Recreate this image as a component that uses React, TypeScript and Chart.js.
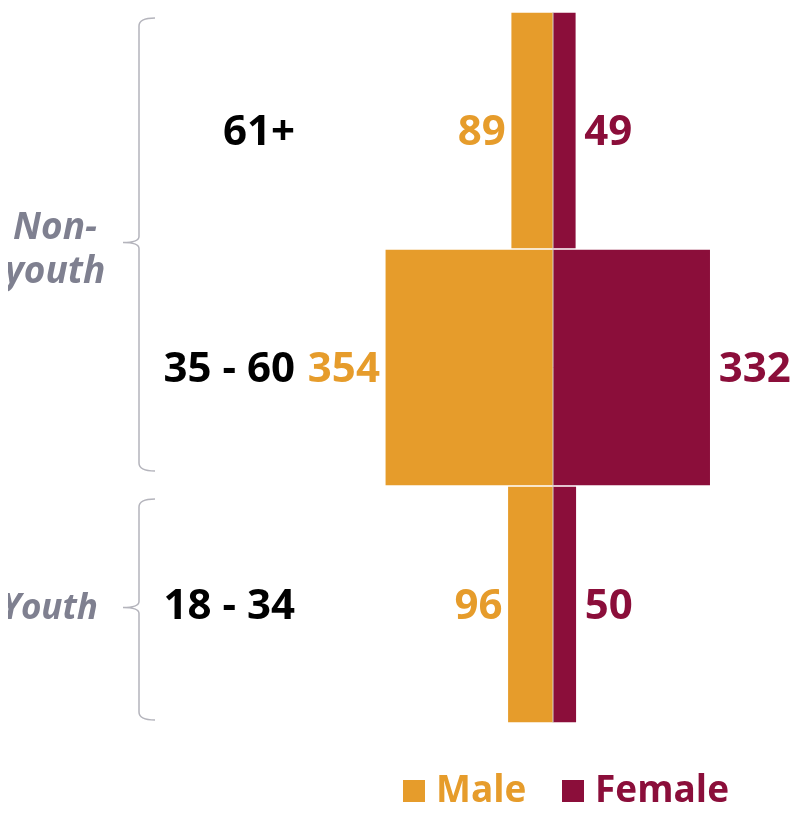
import React, { useEffect, useRef } from "react";
import { Chart, registerables } from "chart.js";

Chart.register(...registerables);

const categories = ["61+", "35 - 60", "18 - 34"];
const maleValues = [89, 354, 96];
const femaleValues = [49, 332, 50];
const seriesNames = ["Male", "Female"];
const groups = [
  { lines: ["Non-", "youth"], from: 0, to: 1, insetTop: 6, insetBottom: 15 },
  { lines: ["Youth"], from: 2, to: 2, insetTop: 13, insetBottom: 3 },
];

const MALE = "#E69C2B";
const FEMALE = "#8B0E3A";
const GREY = "#7F8090";
const FONT = "'Open Sans', 'Noto Sans', sans-serif";

const overlay = {
  id: "overlay",
  afterDatasetsDraw(chart: any) {
    const { ctx, scales, chartArea } = chart;
    const x = scales.x;
    const y = scales.y;
    const zero = x.getPixelForValue(0);
    ctx.save();
    // center line
    ctx.strokeStyle = "#d0d0d0";
    ctx.lineWidth = 1;
    ctx.beginPath();
    ctx.moveTo(zero, chartArea.top);
    ctx.lineTo(zero, chartArea.bottom);
    ctx.stroke();

    // value labels
    ctx.font = `bold 42px ${FONT}`;
    ctx.textBaseline = "middle";
    categories.forEach((c, i) => {
      const yc = y.getPixelForValue(i);
      ctx.fillStyle = MALE;
      ctx.textAlign = "right";
      ctx.fillText(String(maleValues[i]), x.getPixelForValue(-maleValues[i]) - 5, yc + 3);
      ctx.fillStyle = FEMALE;
      ctx.textAlign = "left";
      ctx.fillText(String(femaleValues[i]), x.getPixelForValue(femaleValues[i]) + 8, yc + 3);
      // category labels
      ctx.fillStyle = "#000";
      ctx.textAlign = "right";
      ctx.fillText(c, 287, yc + 3);
    });

    // braces and group labels
    const bw = y.getPixelForValue(1) - y.getPixelForValue(0);
    groups.forEach((g) => {
      const top = y.getPixelForValue(g.from) - bw / 2 + g.insetTop;
      const bot = y.getPixelForValue(g.to) + bw / 2 - g.insetBottom;
      const mid = (top + bot) / 2 - 2;
      const xv = 131;
      const xa = 147;
      const xt = 115;
      ctx.strokeStyle = "#b4b4bc";
      ctx.lineWidth = 1.5;
      ctx.beginPath();
      ctx.moveTo(xa, top);
      ctx.quadraticCurveTo(xv, top, xv, top + 8);
      ctx.lineTo(xv, mid - 6);
      ctx.quadraticCurveTo(xv, mid, xt, mid);
      ctx.quadraticCurveTo(xv, mid, xv, mid + 6);
      ctx.lineTo(xv, bot - 8);
      ctx.quadraticCurveTo(xv, bot, xa, bot);
      ctx.stroke();

      ctx.fillStyle = GREY;
      ctx.textBaseline = "middle";
      if (g.lines.length === 2) {
        ctx.font = `italic bold 37px ${FONT}`;
        ctx.textAlign = "center";
        ctx.fillText(g.lines[0], 47, mid - 14);
        ctx.fillText(g.lines[1], 47, mid + 30);
      } else {
        ctx.font = `italic bold 35px ${FONT}`;
        ctx.textAlign = "right";
        ctx.fillText(g.lines[0], 90, mid + 2);
      }
    });

    // legend
    const ly = 783;
    ctx.font = `bold 37px ${FONT}`;
    ctx.textAlign = "left";
    ctx.textBaseline = "middle";
    ctx.fillStyle = MALE;
    ctx.fillRect(395, ly - 11, 22, 22);
    ctx.fillText(seriesNames[0], 428, ly);
    ctx.fillStyle = FEMALE;
    ctx.fillRect(554, ly - 11, 22, 22);
    ctx.fillText(seriesNames[1], 587, ly);
    ctx.restore();
  },
};

export default function App() {
  const ref = useRef<HTMLCanvasElement>(null);
  useEffect(() => {
    if (!ref.current) return;
    const chart = new Chart(ref.current, {
      type: "bar",
      data: {
        labels: categories,
        datasets: [
          {
            label: seriesNames[0],
            data: maleValues.map((v) => -v),
            backgroundColor: MALE,
            borderColor: "#ffffff",
            borderWidth: 1,
            barPercentage: 1,
            categoryPercentage: 1,
          },
          {
            label: seriesNames[1],
            data: femaleValues,
            backgroundColor: FEMALE,
            borderColor: "#ffffff",
            borderWidth: 1,
            barPercentage: 1,
            categoryPercentage: 1,
          },
        ],
      },
      options: {
        indexAxis: "y",
        animation: false,
        responsive: false,
        maintainAspectRatio: false,
        layout: { padding: { left: 375, right: 76, top: 4, bottom: 85 } },
        scales: {
          x: { stacked: true, min: -358, max: 358, display: false },
          y: { stacked: true, display: false },
        },
        plugins: { legend: { display: false }, tooltip: { enabled: false } },
      },
      plugins: [overlay],
    });
    return () => chart.destroy();
  }, []);
  return <canvas ref={ref} width={791} height={800} style={{ display: "block" }} />;
}
